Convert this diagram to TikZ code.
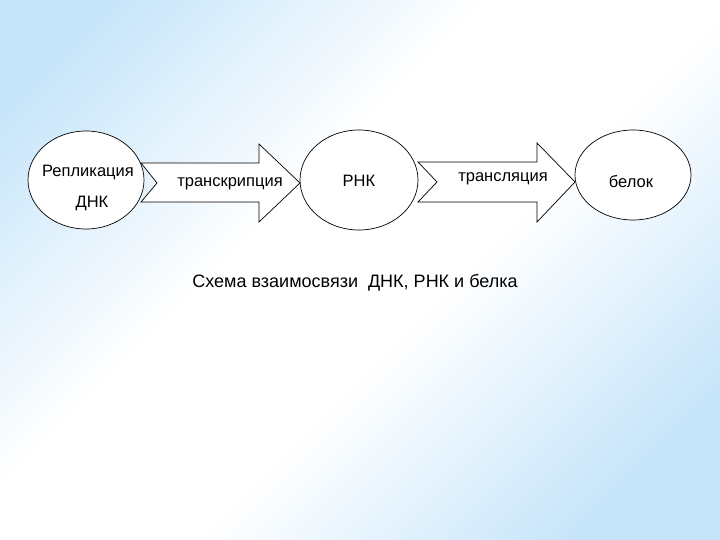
\documentclass[tikz,border=0pt]{standalone}
\usepackage{fontspec}
\setmainfont{Liberation Sans}
\usetikzlibrary{shapes.geometric}
\definecolor{bgblue}{RGB}{196,228,250}
\pgfdeclareverticalshading{bgshade}{100bp}{color(0bp)=(bgblue); color(22bp)=(bgblue); color(44bp)=(white); color(58bp)=(white); color(80bp)=(bgblue); color(100bp)=(bgblue)}
\tikzset{
  cell/.style={ellipse, draw=black, fill=white, line width=0.7pt, inner sep=0pt},
  lbl/.style={inner sep=0pt, font=\fontsize{16.5}{19}\selectfont},
  captext/.style={inner sep=0pt, font=\fontsize{18}{21}\selectfont},
  blockarrow/.style={draw=black, fill=white, line width=0.7pt, line join=miter}
}
\begin{document}
\begin{tikzpicture}[x=1pt,y=-1pt]
\useasboundingbox (0,0) rectangle (720,540);
\shade[shading=bgshade, shading angle=45] (0,0) rectangle (720,540);
% block arrows
\draw[blockarrow] (141,163) -- (259,163) -- (259,144) -- (300,183) -- (259,222) -- (259,202) -- (141,202) -- (157,183) -- cycle;
\draw[blockarrow] (418,162) -- (537,162) -- (537,143) -- (575,182) -- (537,222) -- (537,202) -- (418,202) -- (437,182) -- cycle;
% circles
\node[cell, minimum width=116pt, minimum height=98pt] (dna) at (86,180) {};
\node[cell, minimum width=118pt, minimum height=100pt] (rna) at (359,180) {};
\node[cell, minimum width=116pt, minimum height=90pt] (prot) at (633,175) {};
% labels
\node[lbl] (t1) at (88,172) {Репликация};
\node[lbl] (t2) at (92,203) {ДНК};
\node[lbl] (t3) at (230,184) {транскрипция};
\node[lbl] (t4) at (359,181) {РНК};
\node[lbl] (t5) at (503,179) {трансляция};
\node[lbl] (t6) at (631,182) {белок};
\node[captext] (c) at (355,283) {Схема взаимосвязи\ \ ДНК, РНК и белка};
\end{tikzpicture}
\end{document}
